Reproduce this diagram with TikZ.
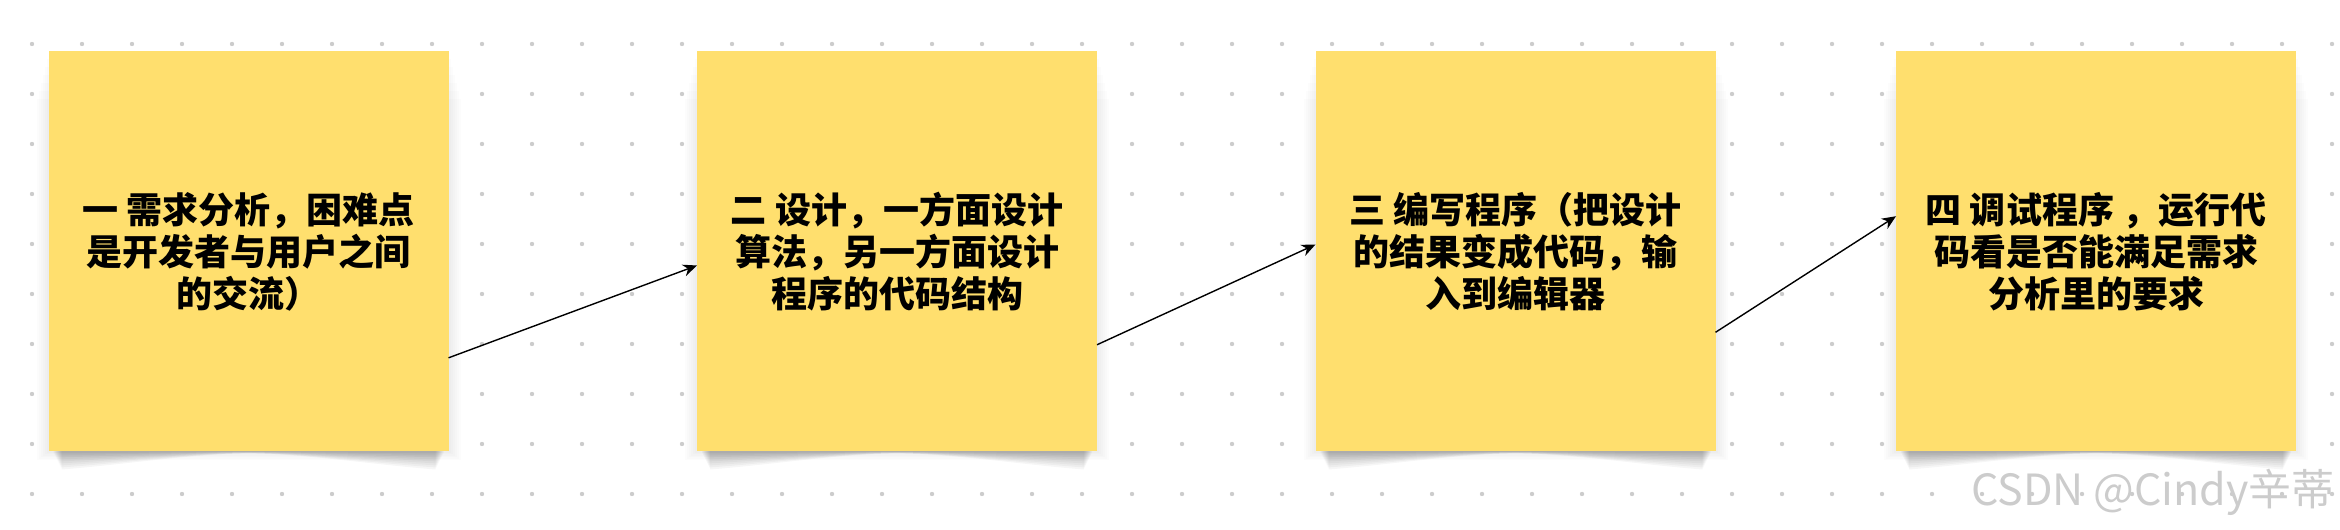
\documentclass[tikz,border=0pt]{standalone}
\usepackage{fontspec}
\newfontfamily\cjk{Noto Sans CJK SC}
\usetikzlibrary{arrows.meta}
\definecolor{noteyellow}{RGB}{255,223,110}
\definecolor{dotgray}{RGB}{204,204,204}
\tikzset{
  note/.style={fill=noteyellow, minimum width=200pt, minimum height=200pt,
    inner sep=0pt, outer sep=0pt, align=center,
    font=\cjk\bfseries\fontsize{18}{21}\selectfont},
  flow/.style={-{Stealth[length=7pt, width=6pt]}, line width=0.7pt}
}
\begin{document}
\begin{tikzpicture}[x=0.5pt, y=0.5pt]
  \useasboundingbox (0,0) rectangle (2340,530);
  % dot grid
  \foreach \i in {0,...,46}
    \foreach \j in {0,...,9}
      \fill[dotgray] (32+50*\i, 486-50*\j) circle (1.1pt);

  % soft shadows under the notes (curled corners)
  \foreach \x in {248.5, 897, 1515.5, 2096} {
    \foreach \s in {1,...,6}
      \fill[black, opacity=0.012] (\x-200-2*\s, 78.5-1.5*\s) rectangle (\x+200+2*\s, 478.5-8*\s);
    \foreach \s in {1,...,9}
      \fill[black, opacity=0.035] (\x-196+\s, 90) -- (\x-196+\s, 78.5-2*\s)
        .. controls (\x-120, 78.5-1.4*\s) and (\x-60, 78.5-0.3*\s) .. (\x, 78.5-0.2*\s)
        .. controls (\x+60, 78.5-0.3*\s) and (\x+120, 78.5-1.4*\s) .. (\x+196-\s, 78.5-2*\s)
        -- (\x+196-\s, 90) -- cycle;
  }

  % notes
  \node[note] (analyse) at (248.5,278.5) {一 需求分析，困难点\\是开发者与用户之间\\的交流）};
  \node[note] (design) at (897,278.5) {二 设计，一方面设计\\算法，另一方面设计\\程序的代码结构};
  \node[note] (coding) at (1515.5,278.5) {三 编写程序（把设计\\的结果变成代码，输\\入到编辑器};
  \node[note] (debug) at (2096,278.5) {四 调试程序 ，运行代\\码看是否能满足需求\\分析里的要求};

  % arrows
  \draw[flow] (analyse.-28) -- (design.-176);
  \draw[flow] (design.-25) -- (coding.178);
  \draw[flow] (coding.-22) -- (debug.170);

  % watermark
  \node[anchor=base east, inner sep=0pt, text=gray!40,
    font=\cjk\fontsize{21.5}{21.5}\selectfont] (mark) at (2335,25) {CSDN @Cindy辛蒂};
\end{tikzpicture}
\end{document}
